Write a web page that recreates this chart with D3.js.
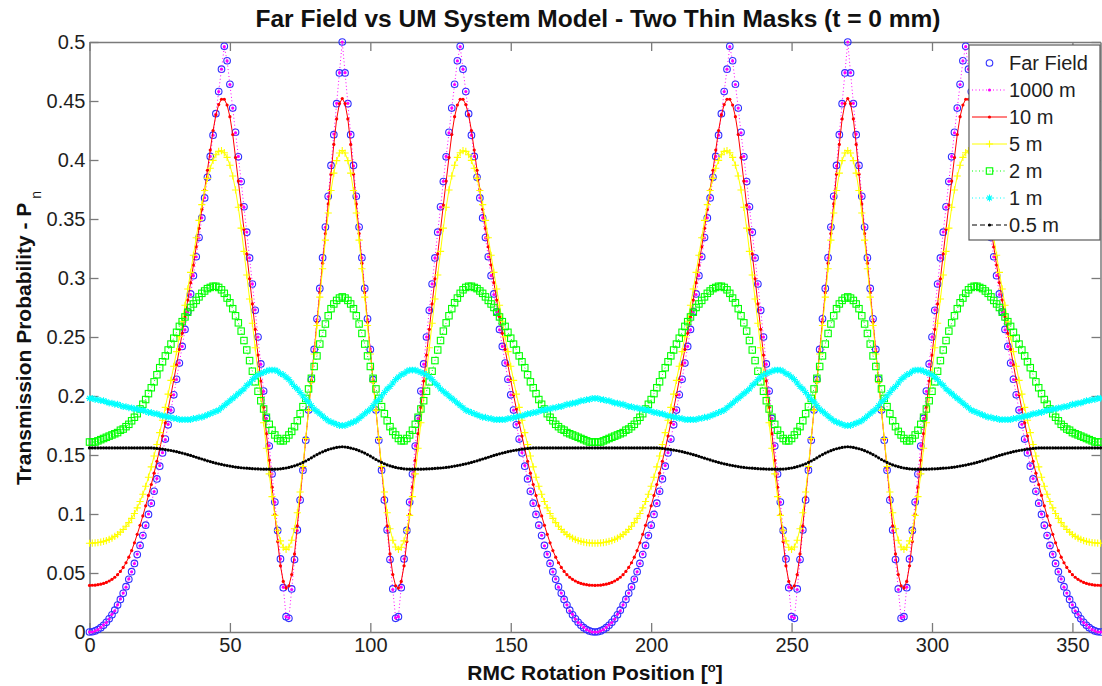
<!DOCTYPE html>
<html>
<head>
<meta charset="utf-8">
<script src="https://cdn.jsdelivr.net/npm/d3@7"></script>
<style>
html, body { margin: 0; padding: 0; background: #ffffff; }
svg { display: block; font-family: Arial, "Liberation Sans", Helvetica, sans-serif; }
</style>
</head>
<body>
<svg id="chart" width="1102" height="686"></svg>
<script>
// ---------------- DATA ----------------
const angleDeg = d3.range(0, 361, 1);   // RMC rotation position, degrees

const farField = [
0, 0.0002, 0.0009, 0.0021, 0.0037, 0.0057, 0.0082, 0.0112, 0.0146, 0.0185, 0.0228, 0.0276, 0.0328, 0.0384, 0.0446, 0.0511, 0.0581, 0.0656, 0.0734, 0.0817, 0.0905, 0.0996, 0.1092, 0.1193, 0.1297, 0.1405, 0.1518, 0.1635, 0.1756, 0.1881, 0.201, 0.2142, 0.2279, 0.242, 0.2564, 0.2713, 0.2865, 0.302, 0.318, 0.3343, 0.3509, 0.3679, 0.3853, 0.403, 0.421, 0.4393, 0.458, 0.477, 0.4963, 0.4841, 0.4642, 0.444, 0.4235, 0.4027, 0.3817, 0.3604, 0.3388, 0.317, 0.2949, 0.2726, 0.25, 0.2272, 0.2042, 0.181, 0.1576, 0.1339, 0.1101, 0.0861, 0.0619, 0.0376, 0.013, 0.0116, 0.0365, 0.0614, 0.0865, 0.1118, 0.1371, 0.1626, 0.1881, 0.2138, 0.2395, 0.2654, 0.2912, 0.3172, 0.3432, 0.3693, 0.3954, 0.4215, 0.4477, 0.4738, 0.5,
0.4738, 0.4477, 0.4215, 0.3954, 0.3693, 0.3432, 0.3172, 0.2912, 0.2654, 0.2395, 0.2138, 0.1881, 0.1626, 0.1371, 0.1118, 0.0865, 0.0614, 0.0365, 0.0116, 0.013, 0.0376, 0.0619, 0.0861, 0.1101, 0.1339, 0.1576, 0.181, 0.2042, 0.2272, 0.25, 0.2726, 0.2949, 0.317, 0.3388, 0.3604, 0.3817, 0.4027, 0.4235, 0.444, 0.4642, 0.4841, 0.4963, 0.477, 0.458, 0.4393, 0.421, 0.403, 0.3853, 0.3679, 0.3509, 0.3343, 0.318, 0.302, 0.2865, 0.2713, 0.2564, 0.242, 0.2279, 0.2142, 0.201, 0.1881, 0.1756, 0.1635, 0.1518, 0.1405, 0.1297, 0.1193, 0.1092, 0.0996, 0.0905, 0.0817, 0.0734, 0.0656, 0.0581, 0.0511, 0.0446, 0.0384, 0.0328, 0.0276, 0.0228, 0.0185, 0.0146, 0.0112, 0.0082, 0.0057, 0.0037, 0.0021, 0.0009, 0.0002, 0,
0.0002, 0.0009, 0.0021, 0.0037, 0.0057, 0.0082, 0.0112, 0.0146, 0.0185, 0.0228, 0.0276, 0.0328, 0.0384, 0.0446, 0.0511, 0.0581, 0.0656, 0.0734, 0.0817, 0.0905, 0.0996, 0.1092, 0.1193, 0.1297, 0.1405, 0.1518, 0.1635, 0.1756, 0.1881, 0.201, 0.2142, 0.2279, 0.242, 0.2564, 0.2713, 0.2865, 0.302, 0.318, 0.3343, 0.3509, 0.3679, 0.3853, 0.403, 0.421, 0.4393, 0.458, 0.477, 0.4963, 0.4841, 0.4642, 0.444, 0.4235, 0.4027, 0.3817, 0.3604, 0.3388, 0.317, 0.2949, 0.2726, 0.25, 0.2272, 0.2042, 0.181, 0.1576, 0.1339, 0.1101, 0.0861, 0.0619, 0.0376, 0.013, 0.0116, 0.0365, 0.0614, 0.0865, 0.1118, 0.1371, 0.1626, 0.1881, 0.2138, 0.2395, 0.2654, 0.2912, 0.3172, 0.3432, 0.3693, 0.3954, 0.4215, 0.4477, 0.4738, 0.5,
0.4738, 0.4477, 0.4215, 0.3954, 0.3693, 0.3432, 0.3172, 0.2912, 0.2654, 0.2395, 0.2138, 0.1881, 0.1626, 0.1371, 0.1118, 0.0865, 0.0614, 0.0365, 0.0116, 0.013, 0.0376, 0.0619, 0.0861, 0.1101, 0.1339, 0.1576, 0.181, 0.2042, 0.2272, 0.25, 0.2726, 0.2949, 0.317, 0.3388, 0.3604, 0.3817, 0.4027, 0.4235, 0.444, 0.4642, 0.4841, 0.4963, 0.477, 0.458, 0.4393, 0.421, 0.403, 0.3853, 0.3679, 0.3509, 0.3343, 0.318, 0.302, 0.2865, 0.2713, 0.2564, 0.242, 0.2279, 0.2142, 0.201, 0.1881, 0.1756, 0.1635, 0.1518, 0.1405, 0.1297, 0.1193, 0.1092, 0.0996, 0.0905, 0.0817, 0.0734, 0.0656, 0.0581, 0.0511, 0.0446, 0.0384, 0.0328, 0.0276, 0.0228, 0.0185, 0.0146, 0.0112, 0.0082, 0.0057, 0.0037, 0.0021, 0.0009, 0.0002, 0
];

const dist1000m = [
0, 0, 0.001, 0.002, 0.004, 0.006, 0.008, 0.011, 0.015, 0.018, 0.023, 0.028, 0.033, 0.038, 0.045, 0.051, 0.058, 0.066, 0.073, 0.082, 0.09, 0.1, 0.109, 0.119, 0.13, 0.141, 0.152, 0.163, 0.176, 0.188, 0.201, 0.214, 0.228, 0.242, 0.256, 0.271, 0.286, 0.302, 0.318, 0.334, 0.351, 0.368, 0.385, 0.403, 0.421, 0.439, 0.458, 0.477, 0.496, 0.484, 0.464, 0.444, 0.423, 0.403, 0.382, 0.36, 0.339, 0.317, 0.295, 0.273, 0.25, 0.227, 0.204, 0.181, 0.158, 0.134, 0.11, 0.086, 0.062, 0.038, 0.013, 0.012, 0.036, 0.061, 0.086, 0.112, 0.137, 0.163, 0.188, 0.214, 0.24, 0.265, 0.291, 0.317, 0.343, 0.369, 0.395, 0.422, 0.448, 0.474, 0.5,
0.474, 0.448, 0.422, 0.395, 0.369, 0.343, 0.317, 0.291, 0.265, 0.24, 0.214, 0.188, 0.163, 0.137, 0.112, 0.086, 0.061, 0.036, 0.012, 0.013, 0.038, 0.062, 0.086, 0.11, 0.134, 0.158, 0.181, 0.204, 0.227, 0.25, 0.273, 0.295, 0.317, 0.339, 0.36, 0.382, 0.403, 0.423, 0.444, 0.464, 0.484, 0.496, 0.477, 0.458, 0.439, 0.421, 0.403, 0.385, 0.368, 0.351, 0.334, 0.318, 0.302, 0.286, 0.271, 0.256, 0.242, 0.228, 0.214, 0.201, 0.188, 0.176, 0.163, 0.152, 0.141, 0.13, 0.119, 0.109, 0.1, 0.09, 0.082, 0.073, 0.066, 0.058, 0.051, 0.045, 0.038, 0.033, 0.028, 0.023, 0.018, 0.015, 0.011, 0.008, 0.006, 0.004, 0.002, 0.001, 0, 0,
0, 0.001, 0.002, 0.004, 0.006, 0.008, 0.011, 0.015, 0.018, 0.023, 0.028, 0.033, 0.038, 0.045, 0.051, 0.058, 0.066, 0.073, 0.082, 0.09, 0.1, 0.109, 0.119, 0.13, 0.141, 0.152, 0.163, 0.176, 0.188, 0.201, 0.214, 0.228, 0.242, 0.256, 0.271, 0.286, 0.302, 0.318, 0.334, 0.351, 0.368, 0.385, 0.403, 0.421, 0.439, 0.458, 0.477, 0.496, 0.484, 0.464, 0.444, 0.423, 0.403, 0.382, 0.36, 0.339, 0.317, 0.295, 0.273, 0.25, 0.227, 0.204, 0.181, 0.158, 0.134, 0.11, 0.086, 0.062, 0.038, 0.013, 0.012, 0.036, 0.061, 0.086, 0.112, 0.137, 0.163, 0.188, 0.214, 0.24, 0.265, 0.291, 0.317, 0.343, 0.369, 0.395, 0.422, 0.448, 0.474, 0.5,
0.474, 0.448, 0.422, 0.395, 0.369, 0.343, 0.317, 0.291, 0.265, 0.24, 0.214, 0.188, 0.163, 0.137, 0.112, 0.086, 0.061, 0.036, 0.012, 0.013, 0.038, 0.062, 0.086, 0.11, 0.134, 0.158, 0.181, 0.204, 0.227, 0.25, 0.273, 0.295, 0.317, 0.339, 0.36, 0.382, 0.403, 0.423, 0.444, 0.464, 0.484, 0.496, 0.477, 0.458, 0.439, 0.421, 0.403, 0.385, 0.368, 0.351, 0.334, 0.318, 0.302, 0.286, 0.271, 0.256, 0.242, 0.228, 0.214, 0.201, 0.188, 0.176, 0.163, 0.152, 0.141, 0.13, 0.119, 0.109, 0.1, 0.09, 0.082, 0.073, 0.066, 0.058, 0.051, 0.045, 0.038, 0.033, 0.028, 0.023, 0.018, 0.015, 0.011, 0.008, 0.006, 0.004, 0.002, 0.001, 0, 0
];

const dist10m = [
0.0395, 0.0396, 0.0397, 0.0401, 0.0405, 0.0412, 0.042, 0.0432, 0.0446, 0.0464, 0.0486, 0.0513, 0.0547, 0.0587, 0.0634, 0.069, 0.0756, 0.0828, 0.0904, 0.0984, 0.1069, 0.1157, 0.125, 0.1346, 0.1447, 0.1552, 0.1661, 0.1773, 0.189, 0.201, 0.2135, 0.2263, 0.2395, 0.2531, 0.267, 0.2813, 0.296, 0.311, 0.3264, 0.3421, 0.3582, 0.3746, 0.3913, 0.4084, 0.425, 0.4381, 0.447, 0.4515, 0.4515, 0.4466, 0.4367, 0.4216, 0.4021, 0.3821, 0.3618, 0.3412, 0.3204, 0.2993, 0.278, 0.2565, 0.2347, 0.2127, 0.1905, 0.1681, 0.1455, 0.1227, 0.0997, 0.0766, 0.0561, 0.0429, 0.0372, 0.0391, 0.0487, 0.0662, 0.09, 0.1144, 0.1388, 0.1634, 0.1881, 0.2128, 0.2377, 0.2626, 0.2876, 0.3126, 0.3377, 0.3628, 0.388, 0.4132, 0.4348, 0.4478, 0.4521,
0.4478, 0.4348, 0.4132, 0.388, 0.3628, 0.3377, 0.3126, 0.2876, 0.2626, 0.2377, 0.2128, 0.1881, 0.1634, 0.1388, 0.1144, 0.09, 0.0662, 0.0487, 0.0391, 0.0372, 0.0429, 0.0561, 0.0766, 0.0997, 0.1227, 0.1455, 0.1681, 0.1905, 0.2127, 0.2347, 0.2565, 0.278, 0.2993, 0.3204, 0.3412, 0.3618, 0.3821, 0.4021, 0.4216, 0.4367, 0.4466, 0.4515, 0.4515, 0.447, 0.4381, 0.425, 0.4084, 0.3913, 0.3746, 0.3582, 0.3421, 0.3264, 0.311, 0.296, 0.2813, 0.267, 0.2531, 0.2395, 0.2263, 0.2135, 0.201, 0.189, 0.1773, 0.1661, 0.1552, 0.1447, 0.1346, 0.125, 0.1157, 0.1069, 0.0984, 0.0904, 0.0828, 0.0756, 0.069, 0.0634, 0.0587, 0.0547, 0.0513, 0.0486, 0.0464, 0.0446, 0.0432, 0.042, 0.0412, 0.0405, 0.0401, 0.0397, 0.0396, 0.0395,
0.0396, 0.0397, 0.0401, 0.0405, 0.0412, 0.042, 0.0432, 0.0446, 0.0464, 0.0486, 0.0513, 0.0547, 0.0587, 0.0634, 0.069, 0.0756, 0.0828, 0.0904, 0.0984, 0.1069, 0.1157, 0.125, 0.1346, 0.1447, 0.1552, 0.1661, 0.1773, 0.189, 0.201, 0.2135, 0.2263, 0.2395, 0.2531, 0.267, 0.2813, 0.296, 0.311, 0.3264, 0.3421, 0.3582, 0.3746, 0.3913, 0.4084, 0.425, 0.4381, 0.447, 0.4515, 0.4515, 0.4466, 0.4367, 0.4216, 0.4021, 0.3821, 0.3618, 0.3412, 0.3204, 0.2993, 0.278, 0.2565, 0.2347, 0.2127, 0.1905, 0.1681, 0.1455, 0.1227, 0.0997, 0.0766, 0.0561, 0.0429, 0.0372, 0.0391, 0.0487, 0.0662, 0.09, 0.1144, 0.1388, 0.1634, 0.1881, 0.2128, 0.2377, 0.2626, 0.2876, 0.3126, 0.3377, 0.3628, 0.388, 0.4132, 0.4348, 0.4478, 0.4521,
0.4478, 0.4348, 0.4132, 0.388, 0.3628, 0.3377, 0.3126, 0.2876, 0.2626, 0.2377, 0.2128, 0.1881, 0.1634, 0.1388, 0.1144, 0.09, 0.0662, 0.0487, 0.0391, 0.0372, 0.0429, 0.0561, 0.0766, 0.0997, 0.1227, 0.1455, 0.1681, 0.1905, 0.2127, 0.2347, 0.2565, 0.278, 0.2993, 0.3204, 0.3412, 0.3618, 0.3821, 0.4021, 0.4216, 0.4367, 0.4466, 0.4515, 0.4515, 0.447, 0.4381, 0.425, 0.4084, 0.3913, 0.3746, 0.3582, 0.3421, 0.3264, 0.311, 0.296, 0.2813, 0.267, 0.2531, 0.2395, 0.2263, 0.2135, 0.201, 0.189, 0.1773, 0.1661, 0.1552, 0.1447, 0.1346, 0.125, 0.1157, 0.1069, 0.0984, 0.0904, 0.0828, 0.0756, 0.069, 0.0634, 0.0587, 0.0547, 0.0513, 0.0486, 0.0464, 0.0446, 0.0432, 0.042, 0.0412, 0.0405, 0.0401, 0.0397, 0.0396, 0.0395
];

const dist5m = [
0.0752, 0.0753, 0.0755, 0.0758, 0.0762, 0.0768, 0.0775, 0.0785, 0.0796, 0.081, 0.0826, 0.0846, 0.0869, 0.0896, 0.0927, 0.0963, 0.1004, 0.1052, 0.1106, 0.1167, 0.1235, 0.1312, 0.1399, 0.1492, 0.1589, 0.169, 0.1795, 0.1904, 0.2016, 0.2132, 0.2252, 0.2376, 0.2503, 0.2634, 0.2769, 0.2907, 0.3048, 0.3193, 0.3341, 0.3488, 0.3622, 0.3741, 0.3844, 0.393, 0.3997, 0.4045, 0.4073, 0.4079, 0.4062, 0.4022, 0.3956, 0.3865, 0.3746, 0.3599, 0.3423, 0.3226, 0.3025, 0.2822, 0.2616, 0.2409, 0.2199, 0.1987, 0.1773, 0.1557, 0.134, 0.1147, 0.0988, 0.0862, 0.0772, 0.0718, 0.07, 0.072, 0.0778, 0.0875, 0.1011, 0.1187, 0.1403, 0.164, 0.1878, 0.2117, 0.2356, 0.2597, 0.2838, 0.3079, 0.3321, 0.3551, 0.3741, 0.3889, 0.3995, 0.4059, 0.408,
0.4059, 0.3995, 0.3889, 0.3741, 0.3551, 0.3321, 0.3079, 0.2838, 0.2597, 0.2356, 0.2117, 0.1878, 0.164, 0.1403, 0.1187, 0.1011, 0.0875, 0.0778, 0.072, 0.07, 0.0718, 0.0772, 0.0862, 0.0988, 0.1147, 0.134, 0.1557, 0.1773, 0.1987, 0.2199, 0.2409, 0.2616, 0.2822, 0.3025, 0.3226, 0.3423, 0.3599, 0.3746, 0.3865, 0.3956, 0.4022, 0.4062, 0.4079, 0.4073, 0.4045, 0.3997, 0.393, 0.3844, 0.3741, 0.3622, 0.3488, 0.3341, 0.3193, 0.3048, 0.2907, 0.2769, 0.2634, 0.2503, 0.2376, 0.2252, 0.2132, 0.2016, 0.1904, 0.1795, 0.169, 0.1589, 0.1492, 0.1399, 0.1312, 0.1235, 0.1167, 0.1106, 0.1052, 0.1004, 0.0963, 0.0927, 0.0896, 0.0869, 0.0846, 0.0826, 0.081, 0.0796, 0.0785, 0.0775, 0.0768, 0.0762, 0.0758, 0.0755, 0.0753, 0.0752,
0.0753, 0.0755, 0.0758, 0.0762, 0.0768, 0.0775, 0.0785, 0.0796, 0.081, 0.0826, 0.0846, 0.0869, 0.0896, 0.0927, 0.0963, 0.1004, 0.1052, 0.1106, 0.1167, 0.1235, 0.1312, 0.1399, 0.1492, 0.1589, 0.169, 0.1795, 0.1904, 0.2016, 0.2132, 0.2252, 0.2376, 0.2503, 0.2634, 0.2769, 0.2907, 0.3048, 0.3193, 0.3341, 0.3488, 0.3622, 0.3741, 0.3844, 0.393, 0.3997, 0.4045, 0.4073, 0.4079, 0.4062, 0.4022, 0.3956, 0.3865, 0.3746, 0.3599, 0.3423, 0.3226, 0.3025, 0.2822, 0.2616, 0.2409, 0.2199, 0.1987, 0.1773, 0.1557, 0.134, 0.1147, 0.0988, 0.0862, 0.0772, 0.0718, 0.07, 0.072, 0.0778, 0.0875, 0.1011, 0.1187, 0.1403, 0.164, 0.1878, 0.2117, 0.2356, 0.2597, 0.2838, 0.3079, 0.3321, 0.3551, 0.3741, 0.3889, 0.3995, 0.4059, 0.408,
0.4059, 0.3995, 0.3889, 0.3741, 0.3551, 0.3321, 0.3079, 0.2838, 0.2597, 0.2356, 0.2117, 0.1878, 0.164, 0.1403, 0.1187, 0.1011, 0.0875, 0.0778, 0.072, 0.07, 0.0718, 0.0772, 0.0862, 0.0988, 0.1147, 0.134, 0.1557, 0.1773, 0.1987, 0.2199, 0.2409, 0.2616, 0.2822, 0.3025, 0.3226, 0.3423, 0.3599, 0.3746, 0.3865, 0.3956, 0.4022, 0.4062, 0.4079, 0.4073, 0.4045, 0.3997, 0.393, 0.3844, 0.3741, 0.3622, 0.3488, 0.3341, 0.3193, 0.3048, 0.2907, 0.2769, 0.2634, 0.2503, 0.2376, 0.2252, 0.2132, 0.2016, 0.1904, 0.1795, 0.169, 0.1589, 0.1492, 0.1399, 0.1312, 0.1235, 0.1167, 0.1106, 0.1052, 0.1004, 0.0963, 0.0927, 0.0896, 0.0869, 0.0846, 0.0826, 0.081, 0.0796, 0.0785, 0.0775, 0.0768, 0.0762, 0.0758, 0.0755, 0.0753, 0.0752
];

const dist2m = [
0.161, 0.161, 0.161, 0.162, 0.163, 0.164, 0.165, 0.166, 0.167, 0.168, 0.169, 0.171, 0.172, 0.174, 0.176, 0.179, 0.182, 0.185, 0.189, 0.193, 0.197, 0.202, 0.207, 0.212, 0.218, 0.224, 0.229, 0.234, 0.239, 0.244, 0.249, 0.254, 0.259, 0.263, 0.267, 0.271, 0.275, 0.278, 0.281, 0.284, 0.287, 0.289, 0.291, 0.292, 0.293, 0.293, 0.292, 0.290, 0.287, 0.283, 0.279, 0.274, 0.268, 0.262, 0.255, 0.247, 0.239, 0.230, 0.221, 0.212, 0.204, 0.196, 0.189, 0.182, 0.176, 0.171, 0.167, 0.164, 0.162, 0.162, 0.164, 0.167, 0.170, 0.174, 0.179, 0.185, 0.191, 0.198, 0.206, 0.215, 0.225, 0.234, 0.244, 0.253, 0.261, 0.268, 0.274, 0.278, 0.281, 0.283, 0.284,
0.283, 0.281, 0.278, 0.274, 0.268, 0.261, 0.253, 0.244, 0.234, 0.225, 0.215, 0.206, 0.198, 0.191, 0.185, 0.179, 0.174, 0.170, 0.167, 0.164, 0.162, 0.162, 0.164, 0.167, 0.171, 0.176, 0.182, 0.189, 0.196, 0.204, 0.212, 0.221, 0.230, 0.239, 0.247, 0.255, 0.262, 0.268, 0.274, 0.279, 0.283, 0.287, 0.290, 0.292, 0.293, 0.293, 0.292, 0.291, 0.289, 0.287, 0.284, 0.281, 0.278, 0.275, 0.271, 0.267, 0.263, 0.259, 0.254, 0.249, 0.244, 0.239, 0.234, 0.229, 0.224, 0.218, 0.212, 0.207, 0.202, 0.197, 0.193, 0.189, 0.185, 0.182, 0.179, 0.176, 0.174, 0.172, 0.171, 0.169, 0.168, 0.167, 0.166, 0.165, 0.164, 0.163, 0.162, 0.161, 0.161, 0.161,
0.161, 0.161, 0.162, 0.163, 0.164, 0.165, 0.166, 0.167, 0.168, 0.169, 0.171, 0.172, 0.174, 0.176, 0.179, 0.182, 0.185, 0.189, 0.193, 0.197, 0.202, 0.207, 0.212, 0.218, 0.224, 0.229, 0.234, 0.239, 0.244, 0.249, 0.254, 0.259, 0.263, 0.267, 0.271, 0.275, 0.278, 0.281, 0.284, 0.287, 0.289, 0.291, 0.292, 0.293, 0.293, 0.292, 0.290, 0.287, 0.283, 0.279, 0.274, 0.268, 0.262, 0.255, 0.247, 0.239, 0.230, 0.221, 0.212, 0.204, 0.196, 0.189, 0.182, 0.176, 0.171, 0.167, 0.164, 0.162, 0.162, 0.164, 0.167, 0.170, 0.174, 0.179, 0.185, 0.191, 0.198, 0.206, 0.215, 0.225, 0.234, 0.244, 0.253, 0.261, 0.268, 0.274, 0.278, 0.281, 0.283, 0.284,
0.283, 0.281, 0.278, 0.274, 0.268, 0.261, 0.253, 0.244, 0.234, 0.225, 0.215, 0.206, 0.198, 0.191, 0.185, 0.179, 0.174, 0.170, 0.167, 0.164, 0.162, 0.162, 0.164, 0.167, 0.171, 0.176, 0.182, 0.189, 0.196, 0.204, 0.212, 0.221, 0.230, 0.239, 0.247, 0.255, 0.262, 0.268, 0.274, 0.279, 0.283, 0.287, 0.290, 0.292, 0.293, 0.293, 0.292, 0.291, 0.289, 0.287, 0.284, 0.281, 0.278, 0.275, 0.271, 0.267, 0.263, 0.259, 0.254, 0.249, 0.244, 0.239, 0.234, 0.229, 0.224, 0.218, 0.212, 0.207, 0.202, 0.197, 0.193, 0.189, 0.185, 0.182, 0.179, 0.176, 0.174, 0.172, 0.171, 0.169, 0.168, 0.167, 0.166, 0.165, 0.164, 0.163, 0.162, 0.161, 0.161, 0.161
];

const dist1m = [
0.198, 0.198, 0.197, 0.197, 0.196, 0.196, 0.195, 0.194, 0.194, 0.193, 0.193, 0.192, 0.191, 0.191, 0.190, 0.190, 0.189, 0.189, 0.188, 0.188, 0.187, 0.186, 0.186, 0.185, 0.185, 0.184, 0.183, 0.183, 0.182, 0.182, 0.181, 0.181, 0.180, 0.180, 0.180, 0.180, 0.180, 0.181, 0.181, 0.182, 0.182, 0.183, 0.184, 0.185, 0.186, 0.187, 0.188, 0.190, 0.192, 0.194, 0.196, 0.198, 0.200, 0.202, 0.204, 0.206, 0.209, 0.211, 0.214, 0.216, 0.218, 0.219, 0.220, 0.221, 0.222, 0.222, 0.222, 0.221, 0.219, 0.218, 0.216, 0.214, 0.211, 0.208, 0.206, 0.203, 0.200, 0.197, 0.195, 0.192, 0.189, 0.187, 0.185, 0.183, 0.181, 0.179, 0.178, 0.177, 0.176, 0.175, 0.175,
0.175, 0.176, 0.177, 0.178, 0.179, 0.181, 0.183, 0.185, 0.187, 0.189, 0.192, 0.195, 0.197, 0.200, 0.203, 0.206, 0.208, 0.211, 0.214, 0.216, 0.218, 0.219, 0.221, 0.222, 0.222, 0.222, 0.221, 0.220, 0.219, 0.218, 0.216, 0.214, 0.211, 0.209, 0.206, 0.204, 0.202, 0.200, 0.198, 0.196, 0.194, 0.192, 0.190, 0.188, 0.187, 0.186, 0.185, 0.184, 0.183, 0.182, 0.182, 0.181, 0.181, 0.180, 0.180, 0.180, 0.180, 0.180, 0.181, 0.181, 0.182, 0.182, 0.183, 0.183, 0.184, 0.185, 0.185, 0.186, 0.186, 0.187, 0.188, 0.188, 0.189, 0.189, 0.190, 0.190, 0.191, 0.191, 0.192, 0.193, 0.193, 0.194, 0.194, 0.195, 0.196, 0.196, 0.197, 0.197, 0.198, 0.198,
0.198, 0.197, 0.197, 0.196, 0.196, 0.195, 0.194, 0.194, 0.193, 0.193, 0.192, 0.191, 0.191, 0.190, 0.190, 0.189, 0.189, 0.188, 0.188, 0.187, 0.186, 0.186, 0.185, 0.185, 0.184, 0.183, 0.183, 0.182, 0.182, 0.181, 0.181, 0.180, 0.180, 0.180, 0.180, 0.180, 0.181, 0.181, 0.182, 0.182, 0.183, 0.184, 0.185, 0.186, 0.187, 0.188, 0.190, 0.192, 0.194, 0.196, 0.198, 0.200, 0.202, 0.204, 0.206, 0.209, 0.211, 0.214, 0.216, 0.218, 0.219, 0.220, 0.221, 0.222, 0.222, 0.222, 0.221, 0.219, 0.218, 0.216, 0.214, 0.211, 0.208, 0.206, 0.203, 0.200, 0.197, 0.195, 0.192, 0.189, 0.187, 0.185, 0.183, 0.181, 0.179, 0.178, 0.177, 0.176, 0.175, 0.175,
0.175, 0.176, 0.177, 0.178, 0.179, 0.181, 0.183, 0.185, 0.187, 0.189, 0.192, 0.195, 0.197, 0.200, 0.203, 0.206, 0.208, 0.211, 0.214, 0.216, 0.218, 0.219, 0.221, 0.222, 0.222, 0.222, 0.221, 0.220, 0.219, 0.218, 0.216, 0.214, 0.211, 0.209, 0.206, 0.204, 0.202, 0.200, 0.198, 0.196, 0.194, 0.192, 0.190, 0.188, 0.187, 0.186, 0.185, 0.184, 0.183, 0.182, 0.182, 0.181, 0.181, 0.180, 0.180, 0.180, 0.180, 0.180, 0.181, 0.181, 0.182, 0.182, 0.183, 0.183, 0.184, 0.185, 0.185, 0.186, 0.186, 0.187, 0.188, 0.188, 0.189, 0.189, 0.190, 0.190, 0.191, 0.191, 0.192, 0.193, 0.193, 0.194, 0.194, 0.195, 0.196, 0.196, 0.197, 0.197, 0.198, 0.198
];

const dist05m = [
0.156, 0.156, 0.156, 0.156, 0.156, 0.156, 0.156, 0.156, 0.156, 0.156, 0.156, 0.156, 0.156, 0.156, 0.156, 0.156, 0.156, 0.156, 0.156, 0.156, 0.156, 0.156, 0.156, 0.1558, 0.1556, 0.1553, 0.155, 0.1546, 0.1542, 0.1538, 0.1533, 0.1528, 0.1522, 0.1516, 0.151, 0.1503, 0.1496, 0.1489, 0.1481, 0.1473, 0.1466, 0.1458, 0.1451, 0.1444, 0.1437, 0.1431, 0.1425, 0.142, 0.1415, 0.141, 0.1406, 0.1402, 0.1398, 0.1395, 0.1392, 0.139, 0.1388, 0.1386, 0.1384, 0.1383, 0.1382, 0.1381, 0.138, 0.138, 0.138, 0.138, 0.138, 0.1381, 0.1383, 0.1386, 0.139, 0.1395, 0.1401, 0.1408, 0.1416, 0.1426, 0.1437, 0.1449, 0.1462, 0.1476, 0.1491, 0.1504, 0.1516, 0.1527, 0.1537, 0.1546, 0.1553, 0.1559, 0.1564, 0.1568, 0.157,
0.1568, 0.1564, 0.1559, 0.1553, 0.1546, 0.1537, 0.1527, 0.1516, 0.1504, 0.1491, 0.1476, 0.1462, 0.1449, 0.1437, 0.1426, 0.1416, 0.1408, 0.1401, 0.1395, 0.139, 0.1386, 0.1383, 0.1381, 0.138, 0.138, 0.138, 0.138, 0.138, 0.1381, 0.1382, 0.1383, 0.1384, 0.1386, 0.1388, 0.139, 0.1392, 0.1395, 0.1398, 0.1402, 0.1406, 0.141, 0.1415, 0.142, 0.1425, 0.1431, 0.1437, 0.1444, 0.1451, 0.1458, 0.1466, 0.1473, 0.1481, 0.1489, 0.1496, 0.1503, 0.151, 0.1516, 0.1522, 0.1528, 0.1533, 0.1538, 0.1542, 0.1546, 0.155, 0.1553, 0.1556, 0.1558, 0.156, 0.156, 0.156, 0.156, 0.156, 0.156, 0.156, 0.156, 0.156, 0.156, 0.156, 0.156, 0.156, 0.156, 0.156, 0.156, 0.156, 0.156, 0.156, 0.156, 0.156, 0.156, 0.156,
0.156, 0.156, 0.156, 0.156, 0.156, 0.156, 0.156, 0.156, 0.156, 0.156, 0.156, 0.156, 0.156, 0.156, 0.156, 0.156, 0.156, 0.156, 0.156, 0.156, 0.156, 0.156, 0.1558, 0.1556, 0.1553, 0.155, 0.1546, 0.1542, 0.1538, 0.1533, 0.1528, 0.1522, 0.1516, 0.151, 0.1503, 0.1496, 0.1489, 0.1481, 0.1473, 0.1466, 0.1458, 0.1451, 0.1444, 0.1437, 0.1431, 0.1425, 0.142, 0.1415, 0.141, 0.1406, 0.1402, 0.1398, 0.1395, 0.1392, 0.139, 0.1388, 0.1386, 0.1384, 0.1383, 0.1382, 0.1381, 0.138, 0.138, 0.138, 0.138, 0.138, 0.1381, 0.1383, 0.1386, 0.139, 0.1395, 0.1401, 0.1408, 0.1416, 0.1426, 0.1437, 0.1449, 0.1462, 0.1476, 0.1491, 0.1504, 0.1516, 0.1527, 0.1537, 0.1546, 0.1553, 0.1559, 0.1564, 0.1568, 0.157,
0.1568, 0.1564, 0.1559, 0.1553, 0.1546, 0.1537, 0.1527, 0.1516, 0.1504, 0.1491, 0.1476, 0.1462, 0.1449, 0.1437, 0.1426, 0.1416, 0.1408, 0.1401, 0.1395, 0.139, 0.1386, 0.1383, 0.1381, 0.138, 0.138, 0.138, 0.138, 0.138, 0.1381, 0.1382, 0.1383, 0.1384, 0.1386, 0.1388, 0.139, 0.1392, 0.1395, 0.1398, 0.1402, 0.1406, 0.141, 0.1415, 0.142, 0.1425, 0.1431, 0.1437, 0.1444, 0.1451, 0.1458, 0.1466, 0.1473, 0.1481, 0.1489, 0.1496, 0.1503, 0.151, 0.1516, 0.1522, 0.1528, 0.1533, 0.1538, 0.1542, 0.1546, 0.155, 0.1553, 0.1556, 0.1558, 0.156, 0.156, 0.156, 0.156, 0.156, 0.156, 0.156, 0.156, 0.156, 0.156, 0.156, 0.156, 0.156, 0.156, 0.156, 0.156, 0.156, 0.156, 0.156, 0.156, 0.156, 0.156, 0.156
];

const seriesNames = ["Far Field", "1000 m", "10 m", "5 m", "2 m", "1 m", "0.5 m"];
const xTickValues = [0, 50, 100, 150, 200, 250, 300, 350];
const yTickValues = [0, 0.05, 0.1, 0.15, 0.2, 0.25, 0.3, 0.35, 0.4, 0.45, 0.5];
const yTickLabels = ["0", "0.05", "0.1", "0.15", "0.2", "0.25", "0.3", "0.35", "0.4", "0.45", "0.5"];
const titleText = "Far Field vs UM System Model - Two Thin Masks (t = 0 mm)";
const xLabelText = "RMC Rotation Position [";
const yLabelText = "Transmission Probability - P";

// ---------------- STYLE ----------------
const seriesData = [farField, dist1000m, dist10m, dist5m, dist2m, dist1m, dist05m];
const seriesStyle = [
  { color: "#2f2fff", dash: null, line: false, marker: "circle" },
  { color: "#ff00ff", dash: "1,2.5", line: true, marker: "dot" },
  { color: "#ff0000", dash: null, line: true, marker: "dot" },
  { color: "#ffff00", dash: null, line: true, marker: "plus" },
  { color: "#00ff00", dash: "1,2.5", line: true, marker: "square" },
  { color: "#00ffff", dash: "1,2.5", line: true, marker: "star" },
  { color: "#000000", dash: "5,3", line: true, marker: "dot" }
];

seriesData.forEach((s, i) => { if (s.length !== angleDeg.length) console.error("length mismatch", seriesNames[i], s.length); });

const W = 1102, H = 686;
const plot = { left: 89.5, right: 1100.5, top: 42, bottom: 632 };
const axisColor = "#7a7a7a";
const textColor = "#1e1e1e";

const svg = d3.select("#chart");
svg.append("rect").attr("width", W).attr("height", H).attr("fill", "#ffffff");

const x = d3.scaleLinear().domain([0, 360]).range([plot.left, plot.right]);
const y = d3.scaleLinear().domain([0, 0.5]).range([plot.bottom, plot.top]);

// ---------------- AXES ----------------
function styleAxis(g, fontSize) {
  g.attr("font-family", null).attr("font-size", null);
  g.select(".domain").attr("stroke", axisColor).attr("stroke-width", 1.5);
  g.selectAll(".tick line").attr("stroke", axisColor).attr("stroke-width", 1.3);
  g.selectAll(".tick text").attr("fill", textColor).style("font-size", fontSize + "px");
}

const gx = svg.append("g").attr("transform", `translate(0,${plot.bottom})`)
  .call(d3.axisBottom(x).tickValues(xTickValues).tickFormat(d3.format("d")).tickSize(-9).tickSizeOuter(0).tickPadding(6));
styleAxis(gx, 20);

const gxt = svg.append("g").attr("transform", `translate(0,${plot.top})`)
  .call(d3.axisTop(x).tickValues(xTickValues).tickFormat(() => "").tickSize(-9).tickSizeOuter(0));
styleAxis(gxt, 20);

const gy = svg.append("g").attr("transform", `translate(${plot.left},0)`)
  .call(d3.axisLeft(y).tickValues(yTickValues).tickFormat((d, i) => yTickLabels[i]).tickSize(-9).tickSizeOuter(0).tickPadding(4));
styleAxis(gy, 20);

const gyr = svg.append("g").attr("transform", `translate(${plot.right},0)`)
  .call(d3.axisRight(y).tickValues(yTickValues).tickFormat(() => "").tickSize(-9).tickSizeOuter(0));
styleAxis(gyr, 20);

// ---------------- MARKERS ----------------
function markerPath(type) {
  switch (type) {
    case "plus": return "M-3.6,0H3.6M0,-3.6V3.6";
    case "star": return "M-3.4,0H3.4M0,-3.4V3.4M-2.4,-2.4L2.4,2.4M-2.4,2.4L2.4,-2.4";
    default: return null;
  }
}
function drawMarkers(g, pts, st) {
  const sel = g.selectAll("m").data(pts).enter();
  if (st.marker === "circle") {
    sel.append("circle").attr("cx", d => d[0]).attr("cy", d => d[1]).attr("r", 3.3)
      .attr("fill", "none").attr("stroke", st.color).attr("stroke-width", 1.1);
  } else if (st.marker === "dot") {
    sel.append("circle").attr("cx", d => d[0]).attr("cy", d => d[1]).attr("r", 1.6)
      .attr("fill", st.color).attr("stroke", "none");
  } else if (st.marker === "square") {
    sel.append("rect").attr("x", d => d[0] - 3.2).attr("y", d => d[1] - 3.2)
      .attr("width", 6.4).attr("height", 6.4)
      .attr("fill", "none").attr("stroke", st.color).attr("stroke-width", 1.1);
  } else {
    const p = markerPath(st.marker);
    sel.append("path").attr("d", p).attr("transform", d => `translate(${d[0]},${d[1]})`)
      .attr("fill", "none").attr("stroke", st.color).attr("stroke-width", 1.1);
  }
}

const lineGen = d3.line().x(d => d[0]).y(d => d[1]);
const dataLayer = svg.append("g");
seriesData.forEach((vals, i) => {
  const st = seriesStyle[i];
  const pts = angleDeg.map((a, k) => [x(a), y(vals[k])]);
  const g = dataLayer.append("g");
  if (st.line) {
    g.append("path").attr("d", lineGen(pts)).attr("fill", "none")
      .attr("stroke", st.color).attr("stroke-width", 1)
      .attr("stroke-dasharray", st.dash);
  }
  drawMarkers(g, pts, st);
});

// ---------------- LEGEND ----------------
const leg = { x: 969, y: 45, w: 131, h: 195, rowH: 27, firstY: 63 };
const lg = svg.append("g");
lg.append("rect").attr("x", leg.x).attr("y", leg.y).attr("width", leg.w).attr("height", leg.h)
  .attr("fill", "#ffffff").attr("stroke", "#5a5a5a").attr("stroke-width", 1.2);
seriesNames.forEach((name, i) => {
  const st = seriesStyle[i];
  const cy = leg.firstY + i * leg.rowH;
  const row = lg.append("g");
  if (st.line) {
    row.append("line").attr("x1", 972).attr("x2", 1007).attr("y1", cy).attr("y2", cy)
      .attr("stroke", st.color).attr("stroke-width", 1).attr("stroke-dasharray", st.dash);
  }
  drawMarkers(row, [[989.5, cy]], st);
  row.append("text").attr("x", 1009).attr("y", cy + 7).attr("fill", textColor)
    .style("font-size", "20px").text(name);
});

// ---------------- TEXT ----------------
svg.append("text").attr("x", 598).attr("y", 27).attr("text-anchor", "middle")
  .attr("fill", "#111").style("font-size", "24.5px").style("font-weight", "bold").text(titleText);

const xl = svg.append("text").attr("x", 595).attr("y", 680).attr("text-anchor", "middle")
  .attr("fill", "#111").style("font-size", "21px").style("font-weight", "bold");
xl.append("tspan").text(xLabelText);
xl.append("tspan").attr("dy", -8).style("font-size", "13px").text("o");
xl.append("tspan").attr("dy", 8).text("]");

const yl = svg.append("text").attr("transform", "translate(31,338) rotate(-90)").attr("text-anchor", "middle")
  .attr("fill", "#111").style("font-size", "21px").style("font-weight", "bold");
yl.append("tspan").text(yLabelText);
yl.append("tspan").attr("dy", 10).style("font-size", "14px").style("font-weight", "normal").text(" n");
</script>
</body>
</html>
